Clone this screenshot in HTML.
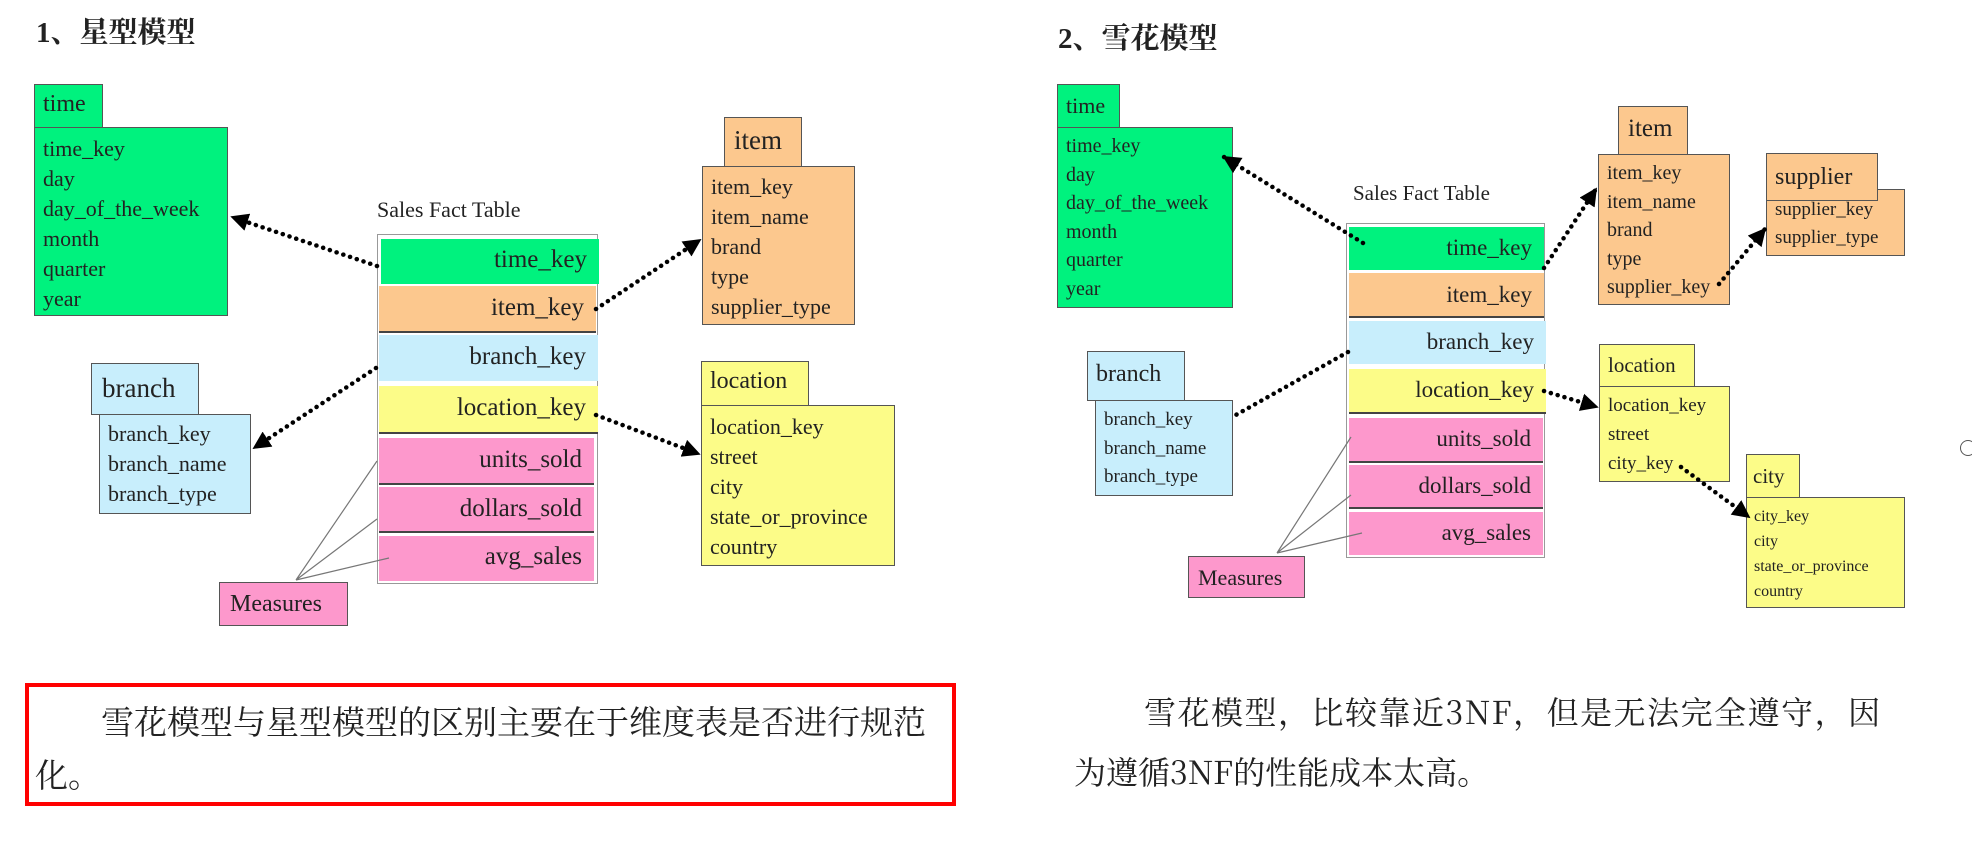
<!DOCTYPE html>
<html><head><meta charset="utf-8"><style>
body{margin:0;width:1972px;height:850px;background:#fff;position:relative;overflow:hidden;font-family:"Liberation Serif","Noto Serif CJK SC",serif;color:#222}
.b{position:absolute;box-sizing:border-box;border:1.5px solid #555}
.t{position:absolute;white-space:nowrap}
.g{background:#00f27e}.o{background:#fcc88e}.bl{background:#c8eefc}.y{background:#fcfc88}.p{background:#fd98cc}
.row{position:absolute;box-sizing:border-box;text-align:right;padding-right:12px;font-size:25px;border-bottom:2px solid #444}
.ln{position:absolute;font-size:22px;line-height:30px}
h1{position:absolute;margin:0;font-size:29px;font-weight:bold;font-family:"Liberation Serif","Noto Serif CJK SC",serif}
</style></head><body>
<h1 style="left:36px;top:10px">1、星型模型</h1>
<h1 style="left:1058px;top:16px">2、雪花模型</h1>

<!-- STAR -->
<div class="b g" style="left:34px;top:84px;width:69px;height:44px"><span class="t" style="left:8px;top:6px;font-size:24px">time</span></div>
<div class="b g" style="left:34px;top:127px;width:194px;height:189px"><div class="ln" style="left:8px;top:6px">time_key<br>day<br>day_of_the_week<br>month<br>quarter<br>year</div></div>

<div class="t" style="left:377px;top:197px;font-size:22px">Sales Fact Table</div>
<div class="b" style="left:377px;top:234px;width:221px;height:350px;border-color:#999;background:#fff"></div>
<div class="row g" style="left:381px;top:239px;width:218px;height:45px;line-height:42px;border:none">time_key</div>
<div class="row o" style="left:379px;top:286px;width:217px;height:47px;line-height:44px">item_key</div>
<div class="row bl" style="left:379px;top:335px;width:219px;height:46px;line-height:44px;border:none">branch_key</div>
<div class="row y" style="left:379px;top:386px;width:219px;height:48px;line-height:44px">location_key</div>
<div class="row p" style="left:379px;top:438px;width:215px;height:47px;line-height:44px">units_sold</div>
<div class="row p" style="left:379px;top:487px;width:215px;height:46px;line-height:44px">dollars_sold</div>
<div class="row p" style="left:379px;top:536px;width:215px;height:45px;line-height:42px;border:none">avg_sales</div>

<div class="b o" style="left:724px;top:117px;width:78px;height:51px"><span class="t" style="left:9px;top:7px;font-size:27px">item</span></div>
<div class="b o" style="left:702px;top:166px;width:153px;height:159px"><div class="ln" style="left:8px;top:5px">item_key<br>item_name<br>brand<br>type<br>supplier_type</div></div>

<div class="b bl" style="left:91px;top:363px;width:108px;height:52px"><span class="t" style="left:10px;top:9px;font-size:27px">branch</span></div>
<div class="b bl" style="left:99px;top:414px;width:152px;height:100px"><div class="ln" style="left:8px;top:4px">branch_key<br>branch_name<br>branch_type</div></div>

<div class="b y" style="left:701px;top:361px;width:108px;height:45px"><span class="t" style="left:8px;top:6px;font-size:24px">location</span></div>
<div class="b y" style="left:701px;top:405px;width:194px;height:161px"><div class="ln" style="left:8px;top:6px">location_key<br>street<br>city<br>state_or_province<br>country</div></div>

<div class="b p" style="left:219px;top:582px;width:129px;height:44px"><span class="t" style="left:10px;top:8px;font-size:24px">Measures</span></div>

<div class="b" style="left:25px;top:683px;width:931px;height:123px;border:4px solid #f00"></div>
<div class="t" style="left:101px;top:697px;font-size:33px;font-family:'Noto Serif CJK SC',serif">雪花模型与星型模型的区别主要在于维度表是否进行规范</div>
<div class="t" style="left:35px;top:750px;font-size:33px;font-family:'Noto Serif CJK SC',serif">化。</div>

<!-- SNOWFLAKE -->
<div class="b g" style="left:1057px;top:84px;width:63px;height:44px"><span class="t" style="left:8px;top:8px;font-size:22px">time</span></div>
<div class="b g" style="left:1057px;top:127px;width:176px;height:181px"><div class="ln" style="left:8px;top:4px;line-height:28.5px;font-size:20px">time_key<br>day<br>day_of_the_week<br>month<br>quarter<br>year</div></div>

<div class="t" style="left:1353px;top:181px;font-size:21px">Sales Fact Table</div>
<div class="b" style="left:1346px;top:223px;width:199px;height:335px;border-color:#999;background:#fff"></div>
<div class="row g" style="left:1349px;top:227px;width:195px;height:43px;line-height:42px;font-size:23px;border:none">time_key</div>
<div class="row o" style="left:1349px;top:273px;width:195px;height:45px;line-height:44px;font-size:23px">item_key</div>
<div class="row bl" style="left:1349px;top:321px;width:197px;height:43px;line-height:42px;font-size:23px;border:none">branch_key</div>
<div class="row y" style="left:1349px;top:369px;width:197px;height:45px;line-height:42px;font-size:23px">location_key</div>
<div class="row p" style="left:1349px;top:418px;width:194px;height:45px;line-height:42px;font-size:23px">units_sold</div>
<div class="row p" style="left:1349px;top:465px;width:194px;height:44px;line-height:42px;font-size:23px">dollars_sold</div>
<div class="row p" style="left:1349px;top:512px;width:194px;height:43px;line-height:42px;font-size:23px;border:none">avg_sales</div>

<div class="b o" style="left:1618px;top:106px;width:70px;height:49px"><span class="t" style="left:9px;top:8px;font-size:25px">item</span></div>
<div class="b o" style="left:1598px;top:154px;width:132px;height:151px"><div class="ln" style="left:8px;top:4px;font-size:20px;line-height:28.5px">item_key<br>item_name<br>brand<br>type<br>supplier_key</div></div>

<div class="b o" style="left:1766px;top:189px;width:139px;height:67px"><div class="ln" style="left:8px;top:6px;font-size:19px;line-height:28px">supplier_key<br>supplier_type</div></div>
<div class="b o" style="left:1766px;top:153px;width:112px;height:48px"><span class="t" style="left:8px;top:10px;font-size:24px">supplier</span></div>

<div class="b bl" style="left:1087px;top:351px;width:98px;height:50px"><span class="t" style="left:8px;top:9px;font-size:24px">branch</span></div>
<div class="b bl" style="left:1095px;top:400px;width:138px;height:96px"><div class="ln" style="left:8px;top:5px;font-size:19px;line-height:28.5px">branch_key<br>branch_name<br>branch_type</div></div>

<div class="b y" style="left:1599px;top:344px;width:96px;height:43px"><span class="t" style="left:8px;top:8px;font-size:21px">location</span></div>
<div class="b y" style="left:1599px;top:386px;width:131px;height:96px"><div class="ln" style="left:8px;top:4px;font-size:19px;line-height:29px">location_key<br>street<br>city_key</div></div>

<div class="b y" style="left:1746px;top:454px;width:54px;height:44px"><span class="t" style="left:6px;top:9px;font-size:21px">city</span></div>
<div class="b y" style="left:1746px;top:497px;width:159px;height:111px"><div class="ln" style="left:7px;top:6px;font-size:16px;line-height:25px">city_key<br>city<br>state_or_province<br>country</div></div>

<div class="b p" style="left:1188px;top:556px;width:117px;height:42px"><span class="t" style="left:9px;top:8px;font-size:22px">Measures</span></div>

<div class="t" style="left:1144px;top:688px;font-size:32px;font-family:'Noto Serif CJK SC',serif;letter-spacing:1.5px">雪花模型，比较靠近3NF，但是无法完全遵守，因</div>
<div class="t" style="left:1074px;top:748px;font-size:32px;font-family:'Noto Serif CJK SC',serif">为遵循3NF的性能成本太高。</div>

<div class="b" style="left:1960px;top:440px;width:16px;height:16px;border-radius:50%;border:1.5px solid #555"></div>

<svg width="1972" height="850" style="position:absolute;left:0;top:0" xmlns="http://www.w3.org/2000/svg">
<defs><marker id="a" viewBox="0 0 10 10" refX="9" refY="5" markerWidth="4" markerHeight="4" orient="auto"><path d="M0,0L10,5L0,10z" fill="#000"/></marker></defs>
<g stroke="#000" stroke-width="4.5" stroke-dasharray="0.1 7" stroke-linecap="round" fill="none" marker-end="url(#a)">
<path d="M377,266L232,217"/>
<path d="M596,309L700,240"/>
<path d="M376,368L254,448"/>
<path d="M596,415L699,454"/>
<path d="M1363,243L1224,157"/>
<path d="M1544,268L1596,189"/>
<path d="M1719,284L1765,229"/>
<path d="M1544,391L1597,407"/>
<path d="M1681,467L1749,517"/>
</g>
<path d="M1348,352L1234,416" stroke="#000" stroke-width="4.5" stroke-dasharray="0.1 7" stroke-linecap="round"/>
<g stroke="#777" stroke-width="1.2" fill="none">
<path d="M296,580L377,461M296,580L377,519M296,580L389,558"/>
<path d="M1277,553L1351,437M1277,553L1351,495M1277,553L1362,533"/>
</g>
</svg>
</body></html>
